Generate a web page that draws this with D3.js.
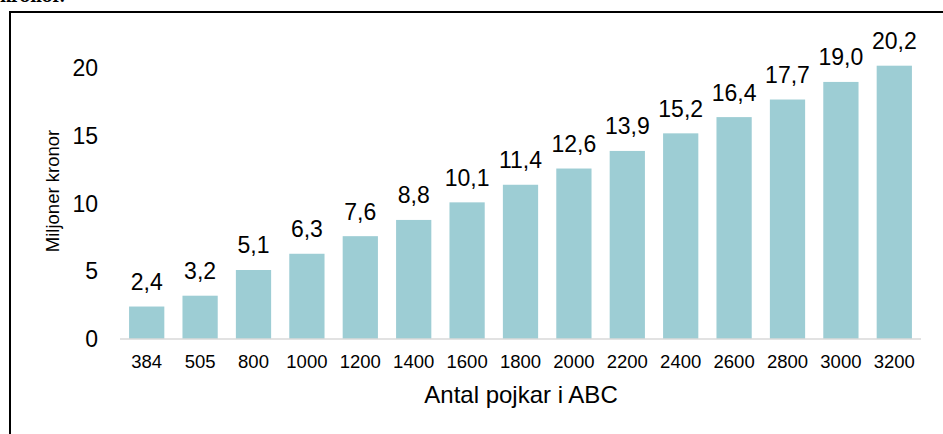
<!DOCTYPE html>
<meta charset="utf-8">
<style>
  body { margin: 0; background: #fff; }
  text { font-family: "Liberation Sans", Arial, sans-serif; fill: #000; }
</style>
<svg width="943" height="434"></svg>
<script src="https://d3js.org/d3.v7.min.js"></script>
<script>
    // data
    var categories = ["384", "505", "800", "1000", "1200", "1400", "1600", "1800",
                      "2000", "2200", "2400", "2600", "2800", "3000", "3200"];
    var values = [2.4, 3.2, 5.1, 6.3, 7.6, 8.8, 10.1, 11.4, 12.6, 13.9, 15.2, 16.4, 17.7, 19.0, 20.2];
    var yTicks = [0, 5, 10, 15, 20];

    var svg = d3.select("svg");

    // cut off heading above the frame
    svg.append("text")
        .attr("x", 0)
        .attr("y", 2)
        .style("font-family", "'DejaVu Serif', serif")
        .style("font-weight", "bold")
        .style("font-size", "16px")
        .text("kronor.");

    // frame
    svg.append("rect")
        .attr("x", 10)
        .attr("y", 12)
        .attr("width", 960)
        .attr("height", 460)
        .attr("fill", "none")
        .attr("stroke", "#000")
        .attr("stroke-width", 2);

    var x = d3.scaleBand()
        .domain(categories)
        .range([120, 921])
        .paddingInner(0.34)
        .paddingOuter(0.17);

    var y = d3.scaleLinear()
        .domain([0, 20])
        .range([339, 68.4]);

    var fmt = function(v) { return d3.format(".1f")(v).replace(".", ","); };

    // bars
    svg.append("g").selectAll("rect")
        .data(values)
        .enter().append("rect")
            .attr("x", function(d, i) { return x(categories[i]); })
            .attr("y", function(d) { return y(d); })
            .attr("width", x.bandwidth())
            .attr("height", function(d) { return y(0) - y(d); })
            .attr("fill", "#9dcdd4");

    // value labels
    svg.append("g").selectAll("text")
        .data(values)
        .enter().append("text")
            .attr("x", function(d, i) { return x(categories[i]) + x.bandwidth() / 2; })
            .attr("y", function(d) { return y(d) - 16.5; })
            .attr("text-anchor", "middle")
            .style("font-size", "23px")
            .text(fmt);

    // baseline
    svg.append("line")
        .attr("x1", 120).attr("x2", 921)
        .attr("y1", y(0)).attr("y2", y(0))
        .attr("stroke", "#d9d9d9")
        .attr("stroke-width", 1.5);

    // x axis labels
    var xAxis = svg.append("g")
        .attr("transform", "translate(0," + y(0) + ")")
        .call(d3.axisBottom(x).tickSize(0).tickPadding(0));
    xAxis.select(".domain").remove();
    xAxis.selectAll("text")
        .attr("dy", null)
        .attr("y", 29)
        .style("font-family", "'Liberation Sans', Arial, sans-serif")
        .style("font-size", "18.5px")
        .attr("fill", "#000");

    // y axis labels
    var yAxis = svg.append("g")
        .attr("transform", "translate(98,0)")
        .call(d3.axisLeft(y).tickValues(yTicks).tickSize(0).tickPadding(0));
    yAxis.select(".domain").remove();
    yAxis.selectAll("text")
        .style("font-family", "'Liberation Sans', Arial, sans-serif")
        .style("font-size", "23px")
        .attr("fill", "#000");

    // axis titles
    svg.append("text")
        .attr("x", 521)
        .attr("y", 403)
        .attr("text-anchor", "middle")
        .style("font-size", "24px")
        .text("Antal pojkar i ABC");

    svg.append("text")
        .attr("transform", "translate(59,191) rotate(-90)")
        .attr("text-anchor", "middle")
        .style("font-size", "18.5px")
        .text("Miljoner kronor");
</script>
